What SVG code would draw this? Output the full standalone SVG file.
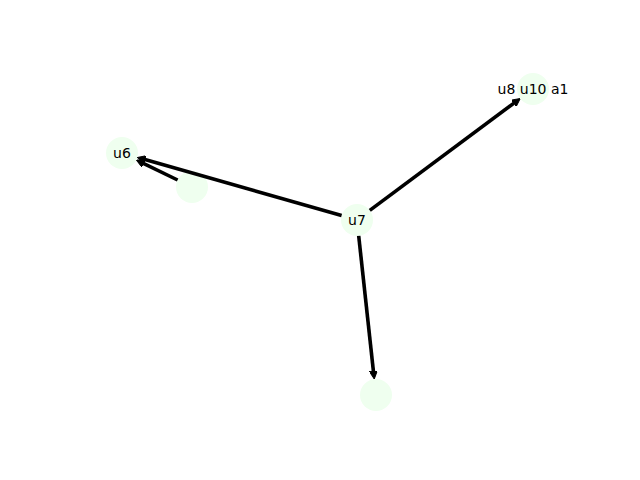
<svg xmlns="http://www.w3.org/2000/svg" width="640" height="480" viewBox="0 0 640 480">
<style>
.node circle{fill:#efffef;}
.node text{font-family:"DejaVu Sans",sans-serif;font-size:14px;fill:#000;text-anchor:middle;dominant-baseline:central;}
.edge{stroke:#000;stroke-width:3.6;fill:none;marker-end:url(#ah);}
</style>
<defs>
<marker id="ah" markerUnits="userSpaceOnUse" viewBox="0 0 8 8" markerWidth="8" markerHeight="8" refX="2" refY="4" orient="auto">
<path d="M0,0 L8,4 L0,8 z" fill="#000" stroke="#000" stroke-width="1" stroke-linejoin="round"/>
</marker>
</defs>
<rect width="640" height="480" fill="#fff"/>
<g id="nodes">
<g id="u6" class="node"><circle cx="122" cy="153" r="16"/><text x="122" y="153">u6</text></g>
<g id="n_unlabeled" class="node"><circle cx="192" cy="187" r="16"/></g>
<g id="u7" class="node"><circle cx="357" cy="220" r="16"/><text x="357" y="220">u7</text></g>
<g id="u8" class="node"><circle cx="533" cy="89" r="16"/><text x="533" y="89">u8 u10 a1</text></g>
<g id="n_bottom" class="node"><circle cx="376" cy="395" r="16"/></g>
</g>
<g id="connectors">
<line class="edge" x1="341.6" y1="215.6" x2="143.2" y2="159.1"/>
<line class="edge" x1="177.6" y1="180" x2="141.8" y2="162.6"/>
<line class="edge" x1="369.8" y1="210.4" x2="515.4" y2="102.1"/>
<line class="edge" x1="358.7" y1="235.9" x2="373.6" y2="373"/>
</g>
</svg>
